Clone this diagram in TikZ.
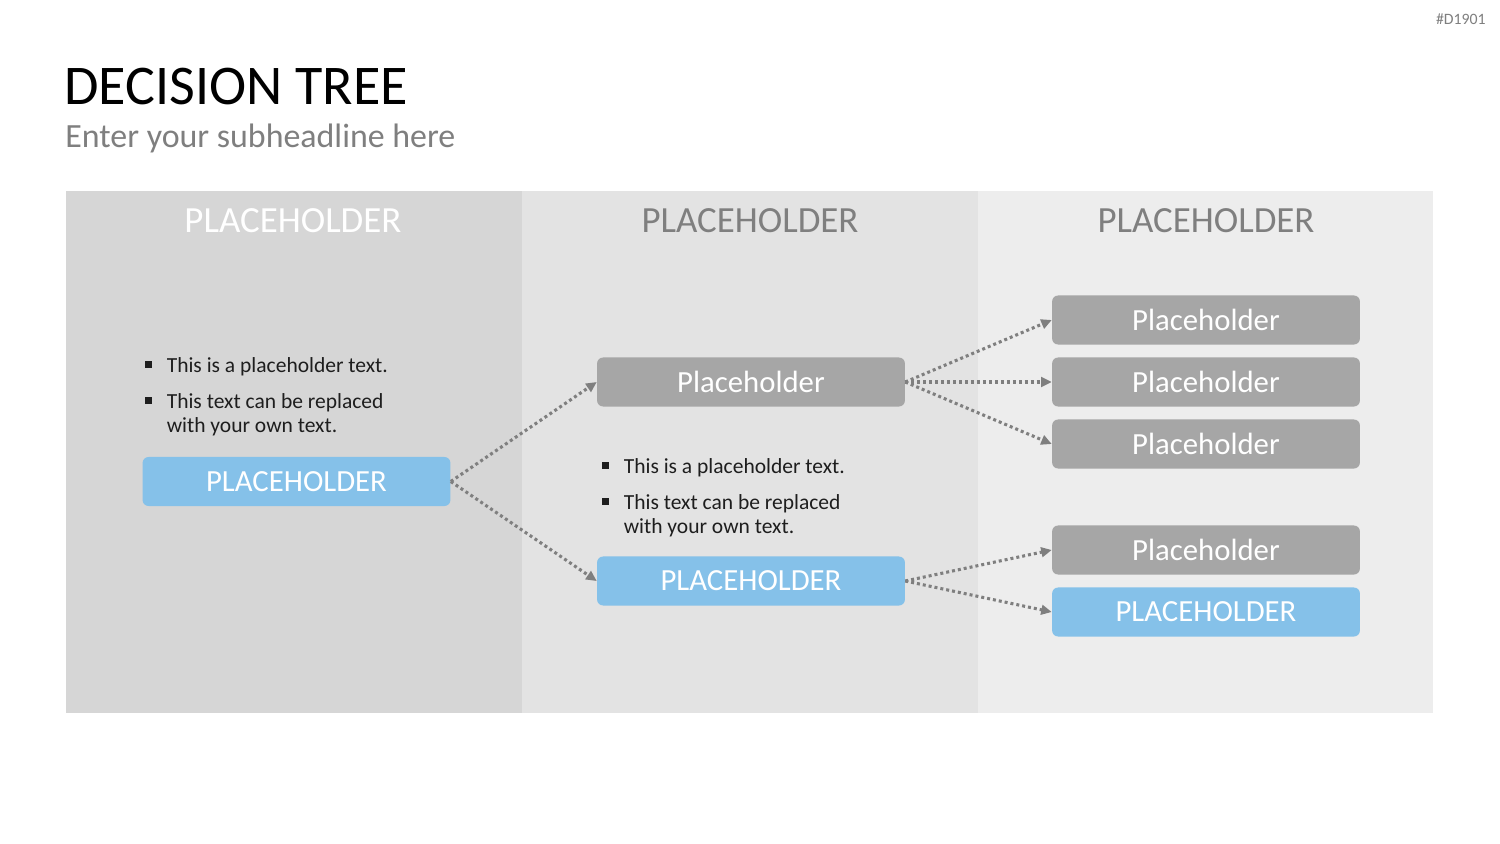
\documentclass[tikz,border=0pt]{standalone}
\usepackage{fontspec}
\setmainfont{Carlito}
\usetikzlibrary{arrows.meta}
\definecolor{colA}{HTML}{D6D6D6}
\definecolor{colB}{HTML}{E3E3E3}
\definecolor{colC}{HTML}{EDEDED}
\definecolor{boxgray}{HTML}{A6A6A6}
\definecolor{boxblue}{HTML}{85C1E9}
\definecolor{txtgray}{HTML}{7F7F7F}
\definecolor{bodytxt}{HTML}{1E1E1E}
\newcommand{\bsq}{\rule[0.2em]{3.6pt}{3.6pt}}
\begin{document}
\begin{tikzpicture}[x=0.02cm,y=-0.02cm,
  colbox/.style={inner sep=0, minimum height=297pt, draw=none},
  header/.style={inner sep=0, font=\fontsize{21}{25}\selectfont},
  decbox/.style={rounded corners=3.4pt, inner sep=0, minimum width=175.2pt, minimum height=27.9pt, text=white, font=\fontsize{17.5}{21}\selectfont},
  graybox/.style={decbox, fill=boxgray},
  bluebox/.style={decbox, fill=boxblue},
  bullets/.style={inner sep=0, anchor=base west, text=bodytxt, font=\fontsize{12.25}{14.2}\selectfont},
  link/.style={draw=txtgray, line width=1.75pt, dash pattern=on 1.7pt off 1.7pt, -{Triangle[length=6pt,width=5.5pt]}}
]
\useasboundingbox (0,0) rectangle (1500,844);
\fill[white] (0,0) rectangle (1500,844);

% tag, title, subheadline
\node[inner sep=0, anchor=base east, text=txtgray, font=\fontsize{9}{10}\selectfont] (tag) at (1486,25) {\#D1901};
\node[inner sep=0, anchor=base west, font=\fontsize{31.9}{36}\selectfont] (title) at (64,105) {DECISION TREE};
\node[inner sep=0, anchor=base west, text=txtgray, font=\fontsize{19.3}{23}\selectfont] (sub) at (65,148) {Enter your subheadline here};

% columns
\node[colbox, fill=colA, minimum width=259.5pt] (c1) at (294,452) {};
\node[colbox, fill=colB, minimum width=259.5pt] (c2) at (750,452) {};
\node[colbox, fill=colC, minimum width=259pt] (c3) at (1205.5,452) {};

\node[header, text=white] (h1) at (293,221) {PLACEHOLDER};
\node[header, text=txtgray] (h2) at (750,221) {PLACEHOLDER};
\node[header, text=txtgray] (h3) at (1206,221) {PLACEHOLDER};

% bullet texts
\node[bullets] (t1) at (145,372) {\begin{tabular}[t]{@{}p{12.2pt}@{}l@{}}
\bsq & This is a placeholder text.\\[6.3pt]
\bsq & This text can be replaced\\
 & with your own text.
\end{tabular}};
\node[bullets] (t2) at (602,473) {\begin{tabular}[t]{@{}p{12.2pt}@{}l@{}}
\bsq & This is a placeholder text.\\[6.3pt]
\bsq & This text can be replaced\\
 & with your own text.
\end{tabular}};

% boxes
\node[bluebox] (b1) at (296.5,481.5) {PLACEHOLDER};
\node[graybox] (g2) at (751,382) {Placeholder};
\node[bluebox] (b2) at (751,581) {PLACEHOLDER};
\node[graybox] (g31) at (1206,320) {Placeholder};
\node[graybox] (g32) at (1206,382) {Placeholder};
\node[graybox] (g33) at (1206,444) {Placeholder};
\node[graybox] (g34) at (1206,550) {Placeholder};
\node[bluebox] (b35) at (1206,612) {PLACEHOLDER};

% connectors
\draw[link] (b1.east) -- (g2.west);
\draw[link] (b1.east) -- (b2.west);
\draw[link] (g2.east) -- (g31.west);
\draw[link] (g2.east) -- (g32.west);
\draw[link] (g2.east) -- (g33.west);
\draw[link] (b2.east) -- (g34.west);
\draw[link] (b2.east) -- (b35.west);
\end{tikzpicture}
\end{document}
